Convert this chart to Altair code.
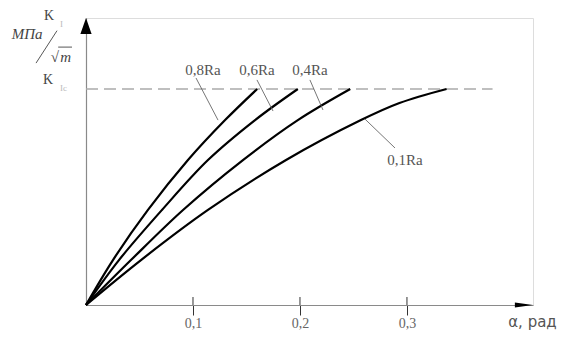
import altair as alt
import pandas as pd

# ---- data (x in rad, y in units of K_Ic) ----
series_names = ["0,8Ra", "0,6Ra", "0,4Ra", "0,1Ra"]
x_08 = [0, 0.0252, 0.0579, 0.0953, 0.130, 0.160]
y_08 = [0, 0.208, 0.440, 0.671, 0.856, 1.0]
x_06 = [0, 0.0308, 0.071, 0.114, 0.158, 0.198]
y_06 = [0, 0.208, 0.440, 0.671, 0.856, 1.0]
x_04 = [0, 0.042, 0.0907, 0.1467, 0.198, 0.247]
y_04 = [0, 0.208, 0.440, 0.671, 0.856, 1.0]
x_01 = [0, 0.0514, 0.114, 0.187, 0.257, 0.293, 0.337]
y_01 = [0, 0.208, 0.440, 0.671, 0.856, 0.935, 1.0]
kc_level = 1.0
kc_end = 0.380
tick_values = [0.1, 0.2, 0.3]
x_title = "α, рад"

X_MAX = 0.4178
Y_MAX = 1.3287
W, H = 447, 287

rows = []
for name, xs_, ys_ in zip(series_names, [x_08, x_06, x_04, x_01], [y_08, y_06, y_04, y_01]):
    for a, b in zip(xs_, ys_):
        rows.append({"s": name, "x": a, "y": b})
curves_df = pd.DataFrame(rows)

xs = alt.Scale(domain=[0, X_MAX], nice=False, zero=False)
ys = alt.Scale(domain=[0, Y_MAX], nice=False, zero=False)

curves = alt.Chart(curves_df).mark_line(interpolate="catmull-rom", color="black", strokeWidth=2.2).encode(
    x=alt.X("x:Q", scale=xs,
            axis=alt.Axis(values=tick_values, title=None, grid=False,
                          domainColor="#8a8a8a", domainWidth=1.2,
                          tickColor="#333", tickSize=10, tickWidth=1,
                          labelExpr="replace(format(datum.value, '.1f'), '.', ',')",
                          labelFont="Liberation Serif", labelFontSize=14,
                          labelColor="#666", labelPadding=1)),
    y=alt.Y("y:Q", scale=ys,
            axis=alt.Axis(title=None, grid=False, ticks=False, labels=False,
                          domainColor="#8a8a8a", domainWidth=1.2)),
    detail="s:N",
)

kc_df = pd.DataFrame({"x": [0], "x2": [kc_end], "y": [kc_level]})
kc_line = alt.Chart(kc_df).mark_rule(color="#aaaaaa", strokeWidth=1.5, strokeDash=[12, 6]).encode(
    x=alt.X("x:Q", scale=xs), x2="x2:Q", y=alt.Y("y:Q", scale=ys))

# upper halves of the axis ticks
tick_df = pd.DataFrame({"x": tick_values, "y": [0.0] * 3, "y2": [0.037] * 3})
ticks_up = alt.Chart(tick_df).mark_rule(color="#333", strokeWidth=1).encode(
    x=alt.X("x:Q", scale=xs), y=alt.Y("y:Q", scale=ys), y2="y2:Q")

# leader lines and labels
lead_df = pd.DataFrame({
    "x": [0.1028, 0.1598, 0.2093, 0.2607],
    "y": [1.051, 1.042, 1.042, 0.861],
    "x2": [0.1234, 0.1748, 0.2215, 0.2888],
    "y2": [0.856, 0.898, 0.903, 0.727],
})
leaders = alt.Chart(lead_df).mark_rule(color="#666", strokeWidth=0.9).encode(
    x=alt.X("x:Q", scale=xs), y=alt.Y("y:Q", scale=ys), x2="x2:Q", y2="y2:Q")

lab_df = pd.DataFrame({
    "t": series_names,
    "x": [0.1093, 0.1598, 0.2093, 0.2981],
    "y": [1.088, 1.088, 1.088, 0.671],
})
labels = alt.Chart(lab_df).mark_text(font="Liberation Serif", fontSize=15, color="#555",
                                     baseline="middle", align="center").encode(
    x=alt.X("x:Q", scale=xs), y=alt.Y("y:Q", scale=ys), text="t:N")

# arrowheads
arr_x = alt.Chart(pd.DataFrame({"x": [0.4093], "y": [0.0]})).mark_point(
    shape="M-1,-0.27L1,0L-1,0.27Z", filled=True, color="black", opacity=1, size=324, strokeWidth=0
).encode(x=alt.X("x:Q", scale=xs), y=alt.Y("y:Q", scale=ys))
arr_y = alt.Chart(pd.DataFrame({"x": [0.0], "y": [1.2917]})).mark_point(
    shape="M-0.7,1L0,-1L0.7,1Z", filled=True, color="black", opacity=1, size=256, strokeWidth=0
).encode(x=alt.X("x:Q", scale=xs), y=alt.Y("y:Q", scale=ys))

# x-axis title
xt = alt.Chart(pd.DataFrame({"t": [x_title], "x": [0.440], "y": [-0.080]})).mark_text(
    font="DejaVu Sans", fontSize=15, color="#555", align="right", baseline="middle"
).encode(x=alt.X("x:Q", scale=xs), y=alt.Y("y:Q", scale=ys), text="t:N")

# y-axis title pieces
ytxt_df = pd.DataFrame({
    "t": ["K", "K"],
    "x": [-0.0346, -0.0355],
    "y": [1.340, 1.042],
})
ytxt = alt.Chart(ytxt_df).mark_text(font="Liberation Serif", fontSize=14, color="#444",
                                     align="center", baseline="middle").encode(
    x=alt.X("x:Q", scale=xs), y=alt.Y("y:Q", scale=ys), text="t:N")
ysub_df = pd.DataFrame({"t": ["I", "Ic"], "x": [-0.0243, -0.0243], "y": [1.300, 1.005]})
ysub = alt.Chart(ysub_df).mark_text(font="Liberation Serif", fontSize=9, color="#bbb",
                                     align="left", baseline="middle").encode(
    x=alt.X("x:Q", scale=xs), y=alt.Y("y:Q", scale=ys), text="t:N")
yunit_df = pd.DataFrame({"t": ["МПа", "√", "m"], "x": [-0.0551, -0.0290, -0.0190], "y": [1.255, 1.150, 1.148]})
yunit = alt.Chart(yunit_df).mark_text(font="Liberation Serif", fontSize=15, fontStyle="italic",
                                       color="#444", align="center", baseline="middle").encode(
    x=alt.X("x:Q", scale=xs), y=alt.Y("y:Q", scale=ys), text="t:N")
yline_df = pd.DataFrame({"x": [-0.0467, -0.0260], "y": [1.120, 1.194],
                         "x2": [-0.0271, -0.0131], "y2": [1.270, 1.194]})
ylines = alt.Chart(yline_df).mark_rule(color="#444", strokeWidth=0.9).encode(
    x=alt.X("x:Q", scale=xs), y=alt.Y("y:Q", scale=ys), x2="x2:Q", y2="y2:Q")

chart = alt.layer(
    kc_line, ticks_up, curves, leaders, labels, arr_x, arr_y, xt, ytxt, ysub, yunit, ylines
).properties(
    width=W, height=H,
    autosize=alt.AutoSizeParams(type="none"),
    padding={"left": 78, "top": 10, "right": 26, "bottom": 27},
).configure_view(stroke=None).configure(background="white")

chart.save("out.html", embed_options={"renderer": "svg", "actions": False})
